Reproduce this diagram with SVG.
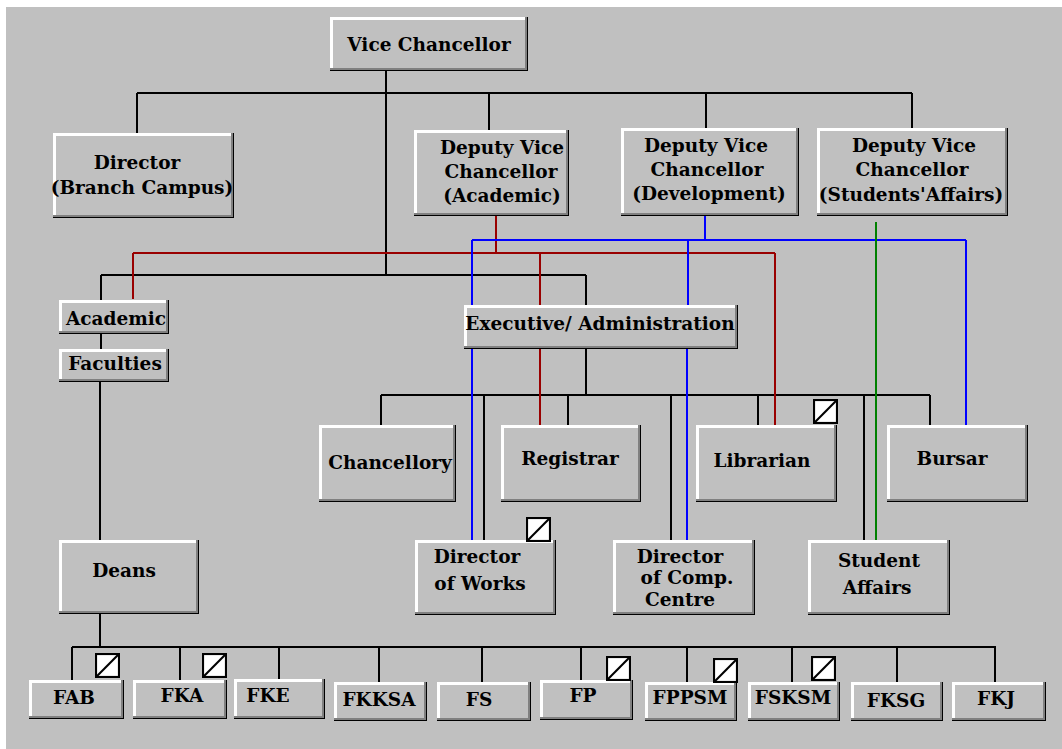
<svg xmlns="http://www.w3.org/2000/svg" width="1062" height="749" viewBox="0 0 1062 749">
<defs>
<style>
.k{fill:#000}
.d{fill:#808080}
.w{fill:#fff}
.f{fill:#c0c0c0}
.t text{font-family:"DejaVu Serif","Liberation Serif",serif;font-weight:bold;font-size:18.5px;fill:#000;text-anchor:middle}
.ln{fill:none;stroke-width:2}
.blk{stroke:#000}
.red{stroke:#990000}
.blu{stroke:#0000ff}
.grn{stroke:#008000}
</style>
<symbol id="ic" viewBox="0 0 24 24">
<rect x="1" y="1" width="22" height="22" fill="#fff" stroke="#000" stroke-width="2"/>
<path d="M2,22 L22,2" stroke="#000" stroke-width="2"/>
</symbol>
</defs>
<rect width="1062" height="749" fill="#fff"/>
<rect x="6" y="7" width="1056" height="742" fill="#c0c0c0"/>

<g id="connectors">
<path class="ln blk" d="M386,70 V275 M137,93 H912 M137,93 V133 M489,93 V130 M706,93 V128 M912,93 V128"/>
<path class="ln blk" d="M101,275 H586 M101,275 V300 M586,275 V305 M101,333 V349 M100,381 V540 M100,613 V647"/>
<path class="ln blk" d="M586,348 V395 M381,395 H930 M381,395 V425 M484,395 V540 M568,395 V425 M671,395 V540 M758,395 V425 M864,395 V540 M930,395 V425"/>
<path class="ln blk" d="M72,647 H996 M72,647 V680 M180,647 V680 M279,647 V679 M379,647 V682 M482,647 V682 M581,647 V680 M687,647 V682 M792,647 V682 M897,647 V682 M995,647 V682"/>
<path class="ln red" d="M496,215 V253 M133,253 H775 M133,253 V299 M540,253 V305 M540,348 V425 M775,253 V425"/>
<path class="ln blu" d="M705,215 V240 M472,240 H966 M472,240 V305 M472,348 V540 M688,240 V305 M687,348 V540 M966,240 V425"/>
<path class="ln grn" d="M876,222 V540"/>
</g>

<g class="t">
<g id="vc">
<rect class="k" x="330" y="17" width="198" height="54"/><rect class="d" x="330" y="17" width="197" height="53"/><rect class="w" x="330" y="17" width="195" height="51"/><rect class="f" x="333" y="20" width="192" height="48"/>
<text x="429" y="51">Vice Chancellor</text>
</g>

<g id="director-branch">
<rect class="k" x="53" y="133" width="181" height="85"/><rect class="d" x="53" y="133" width="180" height="84"/><rect class="w" x="53" y="133" width="178" height="82"/><rect class="f" x="56" y="136" width="175" height="79"/>
<text x="137" y="169">Director</text>
<text x="142" y="194">(Branch Campus)</text>
</g>

<g id="dvc-academic">
<rect class="k" x="414" y="130" width="155" height="86"/><rect class="d" x="414" y="130" width="154" height="85"/><rect class="w" x="414" y="130" width="152" height="83"/><rect class="f" x="417" y="133" width="149" height="80"/>
<text x="502" y="154">Deputy Vice</text>
<text x="501" y="178">Chancellor</text>
<text x="502" y="202">(Academic)</text>
</g>

<g id="dvc-development">
<rect class="k" x="621" y="128" width="178" height="88"/><rect class="d" x="621" y="128" width="177" height="87"/><rect class="w" x="621" y="128" width="175" height="85"/><rect class="f" x="624" y="131" width="172" height="82"/>
<text x="706" y="152">Deputy Vice</text>
<text x="707" y="176">Chancellor</text>
<text x="709" y="200">(Development)</text>
</g>

<g id="dvc-students">
<rect class="k" x="817" y="128" width="191" height="88"/><rect class="d" x="817" y="128" width="190" height="87"/><rect class="w" x="817" y="128" width="188" height="85"/><rect class="f" x="820" y="131" width="185" height="82"/>
<text x="914" y="152">Deputy Vice</text>
<text x="912" y="176">Chancellor</text>
<text x="911" y="201">(Students'Affairs)</text>
</g>

<g id="academic">
<rect class="k" x="59" y="300" width="110" height="34"/><rect class="d" x="59" y="300" width="109" height="33"/><rect class="w" x="59" y="300" width="107" height="31"/><rect class="f" x="62" y="303" width="104" height="28"/>
<text x="116" y="325">Academic</text>
</g>

<g id="faculties">
<rect class="k" x="59" y="349" width="110" height="33"/><rect class="d" x="59" y="349" width="109" height="32"/><rect class="w" x="59" y="349" width="107" height="30"/><rect class="f" x="62" y="352" width="104" height="27"/>
<text x="115" y="370">Faculties</text>
</g>

<g id="deans">
<rect class="k" x="59" y="540" width="140" height="74"/><rect class="d" x="59" y="540" width="139" height="73"/><rect class="w" x="59" y="540" width="137" height="71"/><rect class="f" x="62" y="543" width="134" height="68"/>
<text x="124" y="577">Deans</text>
</g>

<g id="executive">
<rect class="k" x="464" y="305" width="274" height="44"/><rect class="d" x="464" y="305" width="273" height="43"/><rect class="w" x="464" y="305" width="271" height="41"/><rect class="f" x="467" y="308" width="268" height="38"/>
<text x="600" y="330">Executive/ Administration</text>
</g>

<g id="chancellory">
<rect class="k" x="319" y="425" width="137" height="77"/><rect class="d" x="319" y="425" width="136" height="76"/><rect class="w" x="319" y="425" width="134" height="74"/><rect class="f" x="322" y="428" width="131" height="71"/>
<text x="390" y="469">Chancellory</text>
</g>

<g id="registrar">
<rect class="k" x="501" y="425" width="140" height="77"/><rect class="d" x="501" y="425" width="139" height="76"/><rect class="w" x="501" y="425" width="137" height="74"/><rect class="f" x="504" y="428" width="134" height="71"/>
<text x="570" y="465">Registrar</text>
</g>

<g id="librarian">
<rect class="k" x="696" y="425" width="141" height="77"/><rect class="d" x="696" y="425" width="140" height="76"/><rect class="w" x="696" y="425" width="138" height="74"/><rect class="f" x="699" y="428" width="135" height="71"/>
<text x="762" y="467">Librarian</text>
<use href="#ic" x="813" y="399" width="25" height="25"/>
</g>

<g id="bursar">
<rect class="k" x="887" y="425" width="141" height="77"/><rect class="d" x="887" y="425" width="140" height="76"/><rect class="w" x="887" y="425" width="138" height="74"/><rect class="f" x="890" y="428" width="135" height="71"/>
<text x="952" y="465">Bursar</text>
</g>

<g id="director-works">
<rect class="k" x="415" y="540" width="141" height="75"/><rect class="d" x="415" y="540" width="140" height="74"/><rect class="w" x="415" y="540" width="138" height="72"/><rect class="f" x="418" y="543" width="135" height="69"/>
<text x="477" y="563">Director</text>
<text x="480" y="590">of Works</text>
<use href="#ic" x="526" y="517" width="25" height="25"/>
</g>

<g id="director-comp">
<rect class="k" x="613" y="540" width="142" height="75"/><rect class="d" x="613" y="540" width="141" height="74"/><rect class="w" x="613" y="540" width="139" height="72"/><rect class="f" x="616" y="543" width="136" height="69"/>
<text x="680" y="563">Director</text>
<text x="687" y="584">of Comp.</text>
<text x="680" y="606">Centre</text>
</g>

<g id="student-affairs">
<rect class="k" x="808" y="540" width="142" height="75"/><rect class="d" x="808" y="540" width="141" height="74"/><rect class="w" x="808" y="540" width="139" height="72"/><rect class="f" x="811" y="543" width="136" height="69"/>
<text x="879" y="567">Student</text>
<text x="877" y="594">Affairs</text>
</g>

<g id="fab">
<rect class="k" x="29" y="680" width="95" height="39"/><rect class="d" x="29" y="680" width="94" height="38"/><rect class="w" x="29" y="680" width="92" height="36"/><rect class="f" x="32" y="683" width="89" height="33"/>
<text x="74" y="704">FAB</text>
<use href="#ic" x="95" y="653" width="25" height="25"/>
</g>
<g id="fka">
<rect class="k" x="133" y="680" width="94" height="39"/><rect class="d" x="133" y="680" width="93" height="38"/><rect class="w" x="133" y="680" width="91" height="36"/><rect class="f" x="136" y="683" width="88" height="33"/>
<text x="182" y="702">FKA</text>
<use href="#ic" x="202" y="653" width="25" height="25"/>
</g>
<g id="fke">
<rect class="k" x="234" y="679" width="91" height="40"/><rect class="d" x="234" y="679" width="90" height="39"/><rect class="w" x="234" y="679" width="88" height="37"/><rect class="f" x="237" y="682" width="85" height="34"/>
<text x="268" y="702">FKE</text>
</g>
<g id="fkksa">
<rect class="k" x="334" y="682" width="93" height="39"/><rect class="d" x="334" y="682" width="92" height="38"/><rect class="w" x="334" y="682" width="90" height="36"/><rect class="f" x="337" y="685" width="87" height="33"/>
<text x="379" y="706">FKKSA</text>
</g>
<g id="fs">
<rect class="k" x="437" y="682" width="94" height="39"/><rect class="d" x="437" y="682" width="93" height="38"/><rect class="w" x="437" y="682" width="91" height="36"/><rect class="f" x="440" y="685" width="88" height="33"/>
<text x="479" y="706">FS</text>
</g>
<g id="fp">
<rect class="k" x="540" y="680" width="93" height="40"/><rect class="d" x="540" y="680" width="92" height="39"/><rect class="w" x="540" y="680" width="90" height="37"/><rect class="f" x="543" y="683" width="87" height="34"/>
<text x="583" y="702">FP</text>
<use href="#ic" x="606" y="656" width="25" height="25"/>
</g>
<g id="fppsm">
<rect class="k" x="645" y="682" width="92" height="39"/><rect class="d" x="645" y="682" width="91" height="38"/><rect class="w" x="645" y="682" width="89" height="36"/><rect class="f" x="648" y="685" width="86" height="33"/>
<text x="690" y="704">FPPSM</text>
<use href="#ic" x="713" y="658" width="25" height="25"/>
</g>
<g id="fsksm">
<rect class="k" x="748" y="682" width="92" height="39"/><rect class="d" x="748" y="682" width="91" height="38"/><rect class="w" x="748" y="682" width="89" height="36"/><rect class="f" x="751" y="685" width="86" height="33"/>
<text x="793" y="704">FSKSM</text>
<use href="#ic" x="811" y="656" width="25" height="25"/>
</g>
<g id="fksg">
<rect class="k" x="851" y="682" width="92" height="39"/><rect class="d" x="851" y="682" width="91" height="38"/><rect class="w" x="851" y="682" width="89" height="36"/><rect class="f" x="854" y="685" width="86" height="33"/>
<text x="896" y="707">FKSG</text>
</g>
<g id="fkj">
<rect class="k" x="952" y="682" width="94" height="39"/><rect class="d" x="952" y="682" width="93" height="38"/><rect class="w" x="952" y="682" width="91" height="36"/><rect class="f" x="955" y="685" width="88" height="33"/>
<text x="996" y="705">FKJ</text>
</g>
</g>
</svg>
